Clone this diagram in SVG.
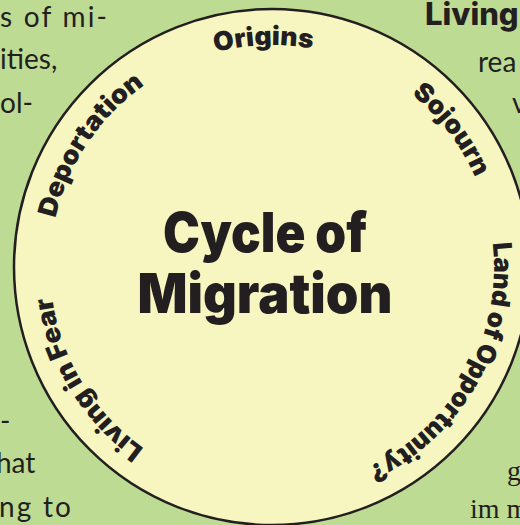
<svg xmlns="http://www.w3.org/2000/svg" width="520" height="525" viewBox="0 0 520 525">
<style>
.body{font-family:Lato,"Liberation Sans",sans-serif;font-size:28px;fill:#231f20}
.serif{font-family:"Liberation Serif",serif;font-size:28px;fill:#231f20}
.head{font-family:Inter,"Liberation Sans",sans-serif;font-weight:800;font-size:31px;fill:#231f20}
.lbl{font-family:Inter,"Open Sans",sans-serif;font-weight:900;font-size:26px;fill:#231f20;text-anchor:middle}
.title{font-family:Inter,"Open Sans",sans-serif;font-weight:900;font-size:55px;fill:#231f20;text-anchor:middle}
</style>
<defs>
<path id="ring" d="M 50 267 A 222 222 0 1 1 494 267 A 222 222 0 1 1 50 267"/>
</defs>
<rect width="520" height="525" fill="#bddb93"/>
<g id="page-text">
<text class="body" x="0" y="27" textLength="107" lengthAdjust="spacing">s of mi-</text>
<text class="body" x="0" y="69">ities,</text>
<text class="body" x="0" y="113">ol-</text>
<text class="head" x="425" y="25">Living</text>
<text class="body" x="478" y="72">rea</text>
<text class="body" x="512" y="113">v</text>
<text class="body" x="0" y="431">-</text>
<text class="body" x="-4" y="473">hat</text>
<text class="body" x="-1" y="517" textLength="72" lengthAdjust="spacing">ng to</text>
<text class="serif" x="507" y="480">g</text>
<text class="serif" x="470" y="518">im m</text>
</g>
<g id="cycle">
<circle cx="272" cy="267" r="258" fill="#f7f6c0" stroke="#231f20" stroke-width="2.5"/>
</g>
<g id="title">
<text class="title" x="265" y="252" textLength="204" lengthAdjust="spacingAndGlyphs">Cycle of</text>
<text class="title" x="265" y="313" textLength="255" lengthAdjust="spacingAndGlyphs">Migration</text>
</g>
<g id="origins"><text class="lbl"><textPath href="#ring" startOffset="24.4%" textLength="98" lengthAdjust="spacingAndGlyphs">Origins</textPath></text></g>
<g id="sojourn"><text class="lbl"><textPath href="#ring" startOffset="39.6%" textLength="106" lengthAdjust="spacingAndGlyphs">Sojourn</textPath></text></g>
<g id="land-of-opportunity"><text class="lbl"><textPath href="#ring" startOffset="58.1%" textLength="274" lengthAdjust="spacingAndGlyphs">Land of Opportunity?</textPath></text></g>
<g id="living-in-fear"><text class="lbl"><textPath href="#ring" startOffset="91.3%" textLength="182" lengthAdjust="spacingAndGlyphs">Living in Fear</textPath></text></g>
<g id="deportation"><text class="lbl"><textPath href="#ring" startOffset="9.4%" textLength="164" lengthAdjust="spacingAndGlyphs">Deportation</textPath></text></g>
</svg>
